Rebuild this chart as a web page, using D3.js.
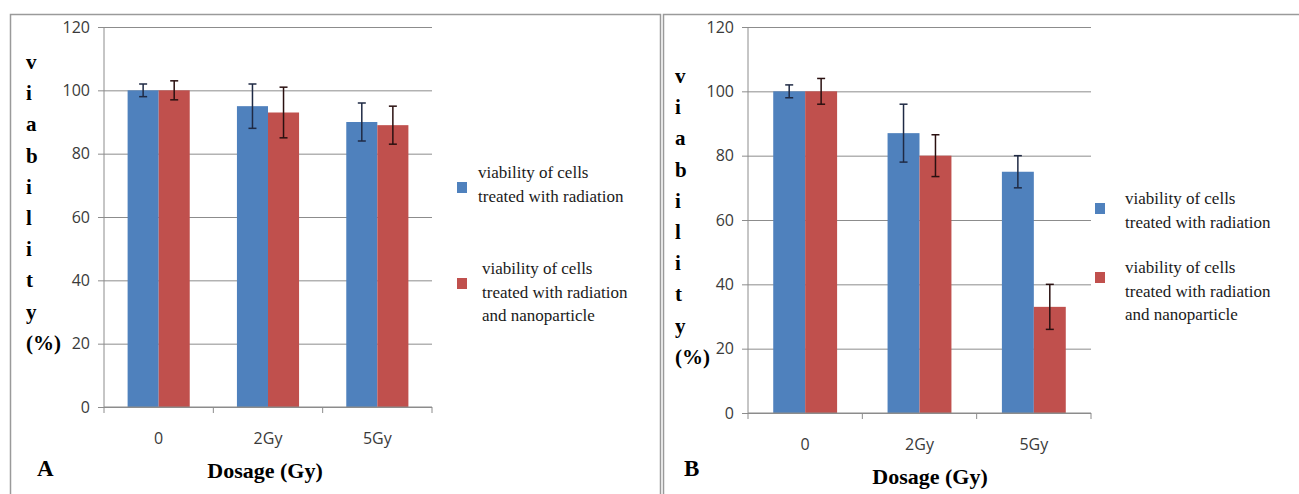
<!DOCTYPE html>
<meta charset="utf-8">
<head>
<title>Viability of cells</title>
<script src="https://d3js.org/d3.v7.min.js"></script>
<style>
  body { margin: 0; background: #fff; }
</style>
</head>
<body>
<div id="my_dataviz"></div>
<script>

// data
var categories = ["0", "2Gy", "5Gy"];
var seriesNames = ["viability of cells treated with radiation",
                   "viability of cells treated with radiation and nanoparticle"];
var radiationA = [100, 95, 90];
var radiationErrA = [2, 7, 6];
var nanoA = [100, 93, 89];
var nanoErrA = [3, 8, 6];
var radiationB = [100, 87, 75];
var radiationErrB = [2, 9, 5];
var nanoB = [100, 80, 33];
var nanoErrB = [4, 6.5, 7];
var yTicks = [0, 20, 40, 60, 80, 100, 120];
var yTitleLetters = ["v", "i", "a", "b", "i", "l", "i", "t", "y", "(%)"];
var legendLines = [["viability of cells", "treated with radiation"],
                   ["viability of cells", "treated with radiation", "and nanoparticle"]];

var colors = ["#4f81bd", "#c0504d"];

var svg = d3.select("#my_dataviz")
  .append("svg")
  .attr("width", 1299)
  .attr("height", 494);

// panel frames
svg.append("rect").attr("x", 10.5).attr("y", 14.5).attr("width", 650).attr("height", 490)
  .style("fill", "none").style("stroke", "#9a9a9a").style("stroke-width", 1.5);
svg.append("rect").attr("x", 663.5).attr("y", 14.5).attr("width", 660).attr("height", 490)
  .style("fill", "none").style("stroke", "#9a9a9a").style("stroke-width", 1.5);

function drawPanel(p) {
  var g = svg.append("g");

  var y = d3.scaleLinear().domain([0, 120]).range([p.bottom, p.top]);
  var x = d3.scaleBand().domain(categories).range([p.left, p.right]).paddingInner(0).paddingOuter(0);
  var inner = d3.scaleBand().domain([0, 1]).range([0, x.bandwidth()]).paddingInner(0).paddingOuter(p.pad);

  // gridlines + left ticks
  g.append("g")
    .attr("transform", "translate(" + p.left + ",0)")
    .call(d3.axisLeft(y).tickValues(yTicks).tickSize(-(p.right - p.left)).tickPadding(14))
    .call(function(a) {
      a.select(".domain").remove();
      a.selectAll(".tick line").attr("stroke", "#8c8c8c").attr("x1", -6);
      a.selectAll(".tick text")
        .style("font-family", "'Open Sans', sans-serif")
        .style("font-size", "16px")
        .style("fill", "#3a3a3a");
    });

  // y axis line
  g.append("line")
    .attr("x1", p.left).attr("x2", p.left)
    .attr("y1", p.top).attr("y2", p.bottom)
    .attr("stroke", "#8c8c8c");

  // bars
  var series = [p.rad, p.nano];
  var errs = [p.radErr, p.nanoErr];
  series.forEach(function(vals, s) {
    g.append("g").selectAll("rect")
      .data(vals)
      .enter()
      .append("rect")
      .attr("x", function(d, i) { return x(categories[i]) + inner(s); })
      .attr("width", inner.bandwidth())
      .attr("y", function(d) { return y(d); })
      .attr("height", function(d) { return y(0) - y(d); })
      .style("fill", colors[s]);
  });

  // error bars
  series.forEach(function(vals, s) {
    var eg = g.append("g").selectAll("g")
      .data(vals)
      .enter()
      .append("g")
      .attr("stroke", s === 0 ? "#1f2a44" : "#2a1010")
      .attr("stroke-width", 1.5);
    var cx = function(d, i) { return x(categories[i]) + inner(s) + inner.bandwidth() / 2; };
    eg.append("line")
      .attr("x1", cx).attr("x2", cx)
      .attr("y1", function(d, i) { return y(d + errs[s][i]); })
      .attr("y2", function(d, i) { return y(d - errs[s][i]); });
    eg.append("line")
      .attr("x1", function(d, i) { return cx(d, i) - 4; })
      .attr("x2", function(d, i) { return cx(d, i) + 4; })
      .attr("y1", function(d, i) { return y(d + errs[s][i]); })
      .attr("y2", function(d, i) { return y(d + errs[s][i]); });
    eg.append("line")
      .attr("x1", function(d, i) { return cx(d, i) - 4; })
      .attr("x2", function(d, i) { return cx(d, i) + 4; })
      .attr("y1", function(d, i) { return y(d - errs[s][i]); })
      .attr("y2", function(d, i) { return y(d - errs[s][i]); });
  });

  // x axis
  var xa = g.append("g")
    .attr("transform", "translate(0," + p.bottom + ")");
  xa.append("line")
    .attr("x1", p.left).attr("x2", p.right)
    .attr("stroke", "#8c8c8c");
  xa.selectAll(".sep")
    .data(categories.concat(["end"]))
    .enter()
    .append("line")
    .attr("x1", function(d, i) { return p.left + i * x.bandwidth(); })
    .attr("x2", function(d, i) { return p.left + i * x.bandwidth(); })
    .attr("y1", 0).attr("y2", 6)
    .attr("stroke", "#8c8c8c");
  xa.selectAll(".lbl")
    .data(categories)
    .enter()
    .append("text")
    .attr("x", function(d) { return x(d) + inner(0) + inner.bandwidth(); })
    .attr("y", p.xLabelY - p.bottom)
    .attr("text-anchor", "middle")
    .style("font-family", "'Open Sans', sans-serif")
    .style("font-size", "16px")
    .style("fill", "#3a3a3a")
    .text(function(d) { return d; });

  // x title
  g.append("text")
    .attr("x", p.titleX)
    .attr("y", p.titleY)
    .attr("text-anchor", "middle")
    .style("font-family", "'Liberation Serif', serif")
    .style("font-weight", "bold")
    .style("font-size", "22px")
    .text("Dosage (Gy)");

  // panel letter
  g.append("text")
    .attr("x", p.letterX)
    .attr("y", 476)
    .style("font-family", "'Liberation Serif', serif")
    .style("font-weight", "bold")
    .style("font-size", "23px")
    .text(p.letter);

  // vertical y title, letters stacked and left aligned
  g.selectAll(".yt")
    .data(yTitleLetters)
    .enter()
    .append("text")
    .attr("x", p.yTitleX)
    .attr("y", function(d, i) { return p.yTitleTop + i * 31.2; })
    .style("font-family", "'Liberation Serif', serif")
    .style("font-weight", "bold")
    .style("font-size", "21px")
    .text(function(d) { return d; });

  // legend
  legendLines.forEach(function(lines, s) {
    var lg = g.append("g");
    lg.append("rect")
      .attr("x", p.legX[s]).attr("y", p.legSq[s] - 5)
      .attr("width", 10).attr("height", 11)
      .style("fill", colors[s]);
    lg.selectAll("text")
      .data(lines)
      .enter()
      .append("text")
      .attr("x", p.legX[s] + p.legGap[s])
      .attr("y", function(d, i) { return p.legY[s] + i * 23.5; })
      .style("font-family", "'Liberation Serif', serif")
      .style("font-size", "17px")
      .style("fill", "#1a1a1a")
      .text(function(d) { return d; });
  });
}

drawPanel({
  left: 104, right: 432, top: 27, bottom: 407, pad: 0.76,
  rad: radiationA, radErr: radiationErrA, nano: nanoA, nanoErr: nanoErrA,
  xLabelY: 444, titleX: 265, titleY: 478, letter: "A", letterX: 37,
  yTitleX: 26, yTitleTop: 69,
  legX: [457, 457], legSq: [187, 283], legGap: [21, 25], legY: [178, 274]
});

drawPanel({
  left: 748, right: 1091, top: 27, bottom: 413, pad: 0.79,
  rad: radiationB, radErr: radiationErrB, nano: nanoB, nanoErr: nanoErrB,
  xLabelY: 450, titleX: 930, titleY: 484, letter: "B", letterX: 684,
  yTitleX: 675, yTitleTop: 83,
  legX: [1095, 1095], legSq: [208, 277], legGap: [30, 30], legY: [204, 273]
});

</script>
</body>
